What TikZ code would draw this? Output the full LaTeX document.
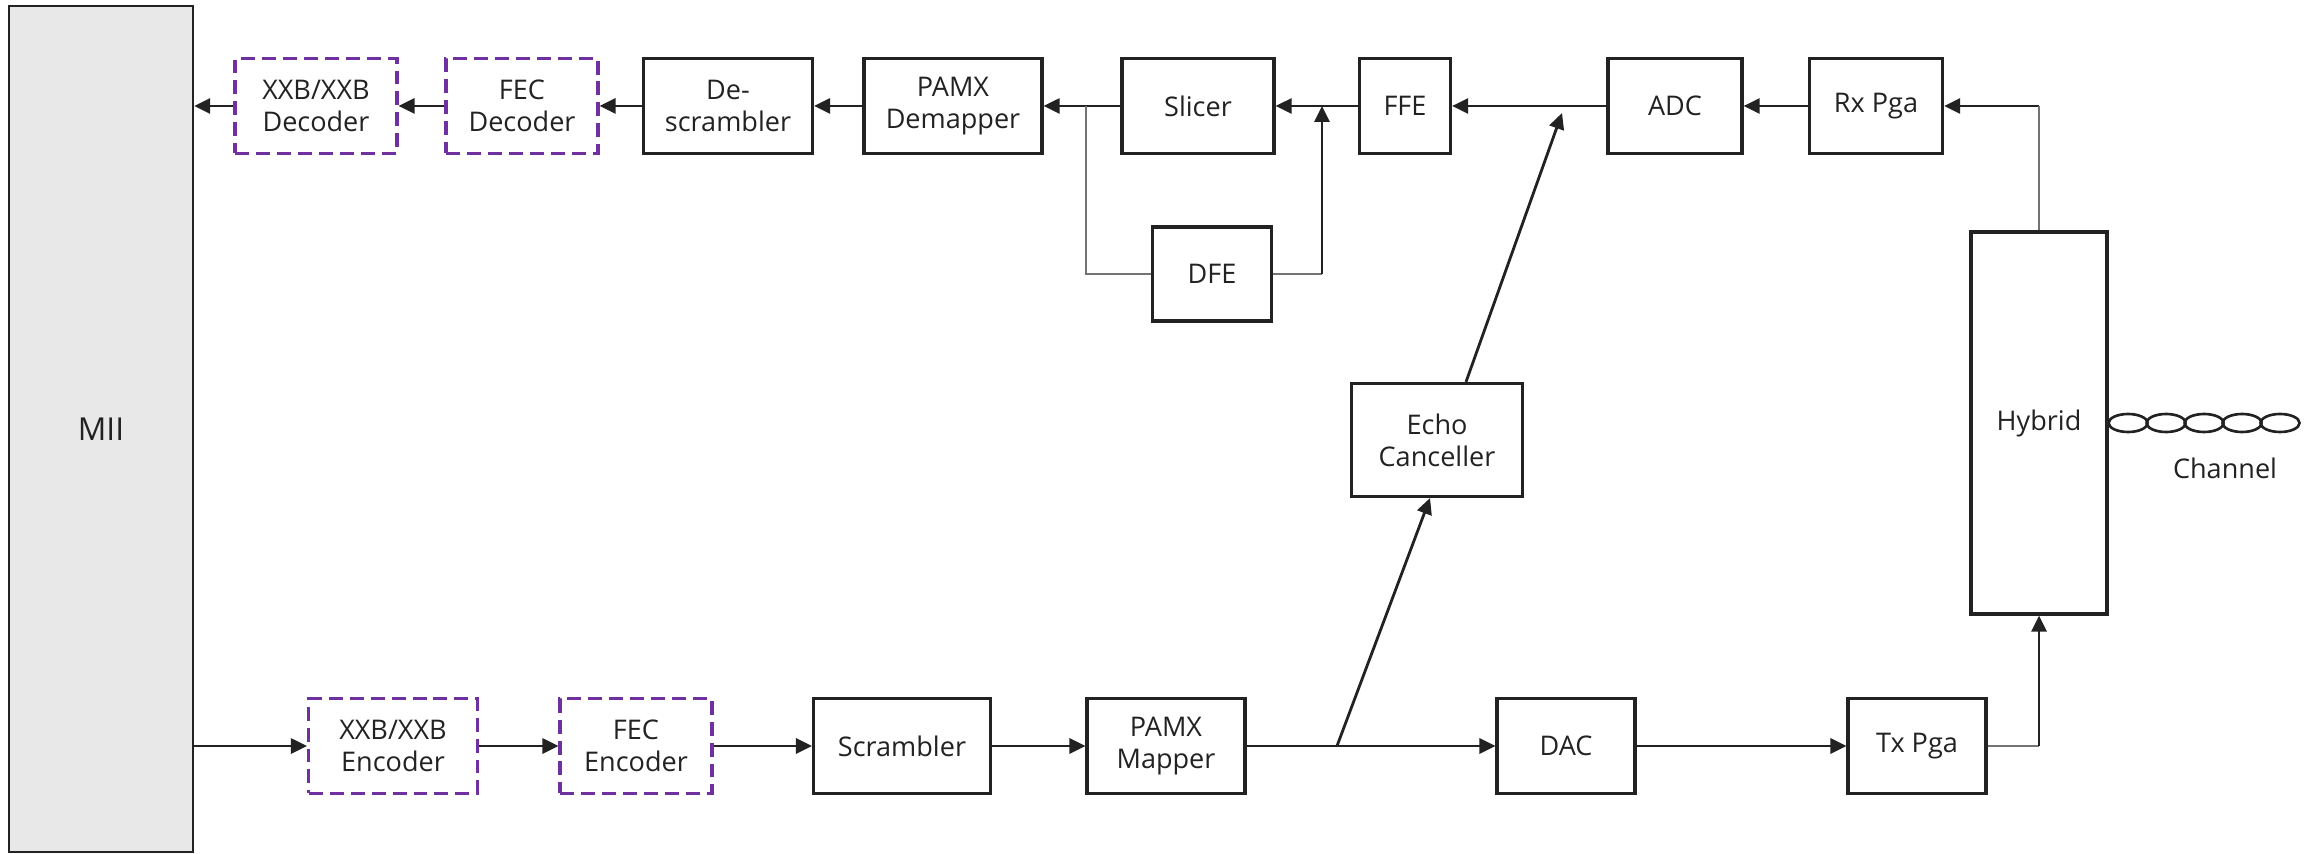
\documentclass[tikz,border=0pt]{standalone}
\usepackage{fontspec}
\setmainfont{Open Sans}
\usetikzlibrary{arrows.meta}
\definecolor{optpurple}{HTML}{7030A0}
\definecolor{miigray}{HTML}{E8E8E8}
\definecolor{inkgray}{HTML}{222222}

\begin{document}
\begin{tikzpicture}[x=0.02cm, y=-0.02cm,
	font=\fontsize{15.4}{18.2}\selectfont, text=inkgray,
	blk/.style={draw=inkgray, line width=1.8pt, minimum height=1.9cm, align=center, inner sep=0pt},
	optblk/.style={blk, draw=optpurple, dash pattern=on 0.28cm off 0.14cm},
	wire/.style={draw=inkgray, line width=1.6pt, -{Triangle[length=0.32cm, width=0.3cm]}},
	thinwire/.style={draw=black!55, line width=0.8pt}]
	\useasboundingbox (0,0) rectangle (2315,854);
	\node[blk, fill=miigray, line width=1.4pt, minimum width=3.68cm, minimum height=16.92cm, font=\fontsize{18}{20}\selectfont] (mii) at (101,429) {MII};
	% receive path
	\node[optblk, minimum width=3.24cm] (xxbdec) at (316,106) {XXB/XXB\\Decoder};
	\node[optblk, minimum width=3.04cm] (fecdec) at (522,106) {FEC\\Decoder};
	\node[blk, minimum width=3.38cm] (descr) at (728,106) {De-\\scrambler};
	\node[blk, minimum width=3.56cm] (demap) at (953,106) {PAMX\\Demapper};
	\node[blk, minimum width=3.04cm] (slicer) at (1198,106) {Slicer};
	\node[blk, minimum width=1.82cm] (ffe) at (1405,106) {FFE};
	\node[blk, minimum width=2.68cm] (adc) at (1675,106) {ADC};
	\node[blk, minimum width=2.66cm] (rxpga) at (1876,106) {Rx Pga};
	\node[blk, minimum width=2.38cm, minimum height=1.88cm] (dfe) at (1212,274) {DFE};
	\node[blk, minimum width=3.42cm, minimum height=2.26cm] (echo) at (1437,440) {Echo\\Canceller};
	\node[blk, minimum width=2.72cm, minimum height=7.64cm] (hybrid) at (2039,423) {Hybrid};
	% transmit path
	\node[optblk, minimum width=3.38cm] (xxbenc) at (393,746) {XXB/XXB\\Encoder};
	\node[optblk, minimum width=3.04cm] (fecenc) at (636,746) {FEC\\Encoder};
	\node[blk, minimum width=3.54cm] (scr) at (902,746) {Scrambler};
	\node[blk, minimum width=3.16cm] (mapper) at (1166,746) {PAMX\\Mapper};
	\node[blk, minimum width=2.76cm] (dac) at (1566,746) {DAC};
	\node[blk, minimum width=2.76cm] (txpga) at (1917,746) {Tx Pga};
	\node (chan) at (2225,468) {Channel};
	%
	\coordinate (tap) at (1086,106);
	\coordinate (fb) at (1322,106);
	\coordinate (echoout) at (1562,113);
	\coordinate (echoin) at (1337,746);
	\coordinate (rxc) at (hybrid.north |- rxpga.east);
	\coordinate (txc) at (hybrid.south |- txpga.east);
	%
	\draw [wire] (rxc) to (rxpga.east);
	\draw [thinwire] (hybrid.north) to (rxc);
	\draw [wire] (rxpga) to (adc);
	\draw [wire] (adc) to (ffe);
	\draw [wire] (ffe) to (slicer);
	\draw [wire] (slicer) to (demap);
	\draw [wire] (demap) to (descr);
	\draw [wire] (descr) to (fecdec);
	\draw [wire] (fecdec) to (xxbdec);
	\draw [wire] (xxbdec.west) to (xxbdec.west -| mii.east);
	\draw [thinwire] (tap) |- (dfe.west);
	\draw [thinwire] (dfe.east) to (dfe.east -| fb);
	\draw [wire] (dfe.east -| fb) to (fb);
	\draw [wire] ([xshift=0.58cm]echo.north) to (echoout);
	%
	\draw [wire] (xxbenc.west -| mii.east) to (xxbenc.west);
	\draw [wire] (xxbenc) to (fecenc);
	\draw [wire] (fecenc) to (scr);
	\draw [wire] (scr) to (mapper);
	\draw [wire] (mapper) to (dac);
	\draw [wire] (echoin) to ([xshift=-0.14cm]echo.south);
	\draw [wire] (dac) to (txpga);
	\draw [thinwire] (txpga.east) to (txc);
	\draw [wire] (txc) to (hybrid.south);
	% channel
	\foreach \i in {0,...,4}
		\draw [draw=inkgray, line width=1.5pt] ([xshift=0.39cm+\i*0.76cm]hybrid.east) ellipse [x radius=0.39cm, y radius=0.18cm];
\end{tikzpicture}
\end{document}
